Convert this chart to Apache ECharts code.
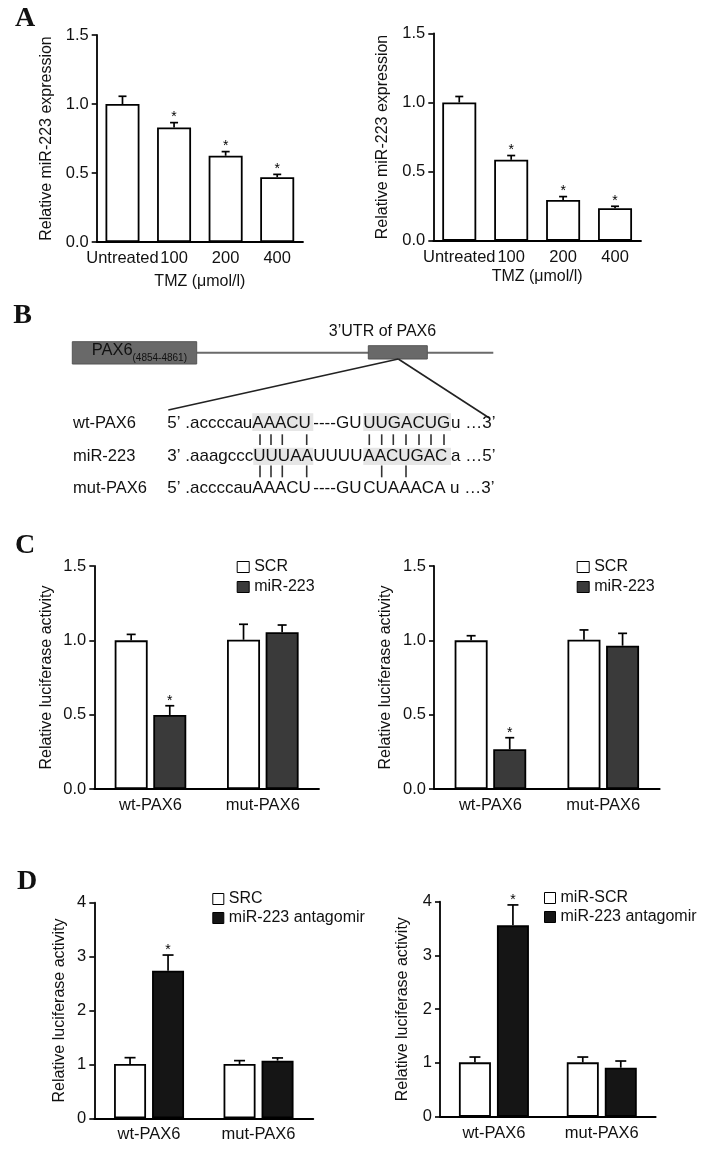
<!DOCTYPE html>
<html>
<head>
<meta charset="utf-8">
<script src="https://cdn.jsdelivr.net/npm/echarts@6/dist/echarts.min.js"></script>
<style>
html,body{margin:0;padding:0;background:#fff;}
#chart{width:708px;height:1150px;}
</style>
</head>
<body>
<div id="chart"></div>
<script>
// ---------------- DATA ----------------
const catsA = ['Untreated', '100', '200', '400'];
const aLeftMean = [1.00, 0.83, 0.625, 0.47];
const aLeftErr  = [0.056, 0.035, 0.03, 0.02];
const aLeftSig  = [0, 1, 1, 1];
const aRightMean = [1.00, 0.585, 0.295, 0.235];
const aRightErr  = [0.043, 0.031, 0.024, 0.014];
const aRightSig  = [0, 1, 1, 1];

const catsCD = ['wt-PAX6', 'mut-PAX6'];
const cLeftSCR = [1.00, 1.004], cLeftSCRErr = [0.04, 0.104], cLeftSCRSig = [0, 0];
const cLeftMiR = [0.498, 1.054], cLeftMiRErr = [0.062, 0.049], cLeftMiRSig = [1, 0];
const cRightSCR = [1.00, 1.004], cRightSCRErr = [0.031, 0.066], cRightSCRSig = [0, 0];
const cRightMiR = [0.267, 0.964], cRightMiRErr = [0.078, 0.083], cRightMiRSig = [1, 0];

const dLeftSRC = [1.008, 1.008], dLeftSRCErr = [0.117, 0.062], dLeftSRCSig = [0, 0];
const dLeftAnt = [2.739, 1.07], dLeftAntErr = [0.29, 0.05], dLeftAntSig = [1, 0];
const dRightSCR = [1.011, 1.011], dRightSCRErr = [0.099, 0.099], dRightSCRSig = [0, 0];
const dRightAnt = [3.56, 0.912], dRightAntErr = [0.38, 0.124], dRightAntSig = [1, 0];

const ticksAC = ['0.0', '0.5', '1.0', '1.5'];
const ticksD = ['0', '1', '2', '3', '4'];

const yNameA = 'Relative miR-223 expression';
const yNameCD = 'Relative luciferase activity';
const xNameA = 'TMZ (μmol/l)';

const namesC = ['SCR', 'miR-223'];
const namesDL = ['SRC', 'miR-223 antagomir'];
const namesDR = ['miR-SCR', 'miR-223 antagomir'];

const panelLetters = ['A', 'B', 'C', 'D'];

// Panel B content
const geneLabel = 'PAX6';
const geneSub = '(4854-4861)';
const utrLabel = '3’UTR of PAX6';
const rowLabels = ['wt-PAX6', 'miR-223', 'mut-PAX6'];
const wtSeq  = ['5’ .accccau', 'AAACU', '----GU', 'UUGACUG', 'u …3’'];
const mirSeq = ['3’ .aaagccc', 'UUUAA', 'UUUU', 'AACUGAC', 'a …5’'];
const mutSeq = ['5’ .accccau', 'AAACU', '----GU', 'CUAAACA', 'u …3’'];

// ---------------- LAYOUT / STYLE ----------------
const FONT = '"Liberation Sans", Arial, sans-serif';
const SERIF = '"Liberation Serif", "Times New Roman", serif';
const INK = '#111';
const TICK_FS = 16.5, NAME_FS = 16;

const grids = [
  {left: 96.7, top: 35, width: 206.3, height: 207},
  {left: 433.3, top: 33.3, width: 207.7, height: 207.4},
  {left: 94.3, top: 566, width: 224.7, height: 223},
  {left: 434, top: 566, width: 225.7, height: 223},
  {left: 94.3, top: 902.7, width: 219, height: 215.6},
  {left: 440, top: 901.7, width: 215.7, height: 215}
];
const yNameGaps = [42, 43, 40, 40, 27, 29];
const xNameGaps = [32, 28];

function fmt(ticks, interval) {
  return v => ticks[Math.round(v / interval)];
}

function xAxis(idx, data, name, nameGap) {
  return {
    type: 'category', gridIndex: idx, data: data,
    name: name || '', nameLocation: 'middle', nameGap: nameGap || 0,
    nameTextStyle: {fontSize: NAME_FS, fontFamily: FONT, color: INK},
    axisLine: {lineStyle: {color: '#000', width: 1.8}},
    axisTick: {alignWithLabel: true, length: 5, lineStyle: {color: '#000', width: 1.6}},
    axisLabel: {interval: 0, margin: 8, fontSize: TICK_FS, fontFamily: FONT, color: INK}
  };
}
function yAxis(idx, max, interval, ticks, name, nameGap) {
  return {
    type: 'value', gridIndex: idx, min: 0, max: max, interval: interval,
    name: name, nameLocation: 'middle', nameGap: nameGap,
    nameTextStyle: {fontSize: NAME_FS, fontFamily: FONT, color: INK},
    axisLine: {show: true, lineStyle: {color: '#000', width: 1.8}},
    axisTick: {show: true, length: 5, lineStyle: {color: '#000', width: 1.6}},
    axisLabel: {margin: 8, fontSize: TICK_FS, fontFamily: FONT, color: INK, formatter: fmt(ticks, interval)},
    splitLine: {show: false}
  };
}

function barSeries(idx, name, data, color, width, gap) {
  return {
    type: 'bar', name: name, xAxisIndex: idx, yAxisIndex: idx, data: data,
    barWidth: width, barGap: gap,
    itemStyle: {color: color, borderColor: '#000', borderWidth: 1.8},
    z: 2
  };
}

function errSeries(idx, means, errs, sig, offset, capHalf) {
  return {
    type: 'custom', xAxisIndex: idx, yAxisIndex: idx, z: 10,
    encode: {x: 0, y: 1},
    data: means.map((m, i) => [i, m, errs[i], sig[i]]),
    renderItem: function (params, api) {
      const i = api.value(0), m = api.value(1), e = api.value(2), s = api.value(3);
      const base = api.coord([i, m]);
      const top = api.coord([i, m + e]);
      const x = base[0] + offset;
      const children = [
        {type: 'line', shape: {x1: x, y1: base[1], x2: x, y2: top[1]}, style: {stroke: '#000', lineWidth: 1.7}},
        {type: 'line', shape: {x1: x - capHalf, y1: top[1], x2: x + capHalf, y2: top[1]}, style: {stroke: '#000', lineWidth: 1.7}}
      ];
      if (s) {
        children.push({
          type: 'text', x: x, y: top[1] - 5,
          style: {text: '*', font: '14px ' + FONT, fill: '#000',
                  align: 'center', verticalAlign: 'middle',
                  textAlign: 'center', textVerticalAlign: 'middle'}
        });
      }
      return {type: 'group', children: children};
    }
  };
}

const WHITE = '#ffffff', DARK_C = '#3a3a3a', DARK_D = '#151515';
const bwA = 34, bwC = 33, gapC = 5.6, bwD = 32, gapD = 6;

function legend(left, top, names, colors, iw, ih, gap) {
  return {
    left: left, top: top, orient: 'vertical', padding: 0,
    itemWidth: iw, itemHeight: ih, itemGap: gap, icon: 'rect', selectedMode: false,
    textStyle: {fontSize: 16, fontFamily: FONT, color: INK},
    data: names.map((n, k) => ({name: n, itemStyle: {color: colors[k], borderColor: '#000', borderWidth: 1}}))
  };
}

// ---------------- GRAPHIC (panel letters + panel B) ----------------
function txt(x, y, text, font, align) {
  return {
    type: 'text', x: x, y: y,
    style: {text: text, font: font, fill: INK, align: align || 'left', verticalAlign: 'middle',
            textAlign: align || 'left', textVerticalAlign: 'middle'}
  };
}
const letterPos = [[25, 18.5], [22.5, 315.5], [25, 545.5], [27, 882]];
const graphics = [];
panelLetters.forEach((L, k) => {
  graphics.push(txt(letterPos[k][0], letterPos[k][1], L, 'bold 28px ' + SERIF, 'center'));
});

// gene schematic
const GENE = '#696969';
graphics.push({type: 'line', shape: {x1: 196.7, y1: 352.7, x2: 493.3, y2: 352.7}, style: {stroke: '#6a6a6a', lineWidth: 2}});
graphics.push({type: 'rect', shape: {x: 72.3, y: 341.7, width: 124.4, height: 22.3}, style: {fill: GENE, stroke: '#555', lineWidth: 1}});
graphics.push({type: 'rect', shape: {x: 368.3, y: 345.7, width: 59, height: 13.3}, style: {fill: GENE, stroke: '#555', lineWidth: 1}});
graphics.push(txt(91.7, 350.5, geneLabel, '16.5px ' + FONT, 'left'));
graphics.push(txt(132.5, 358.5, geneSub, '10px ' + FONT, 'left'));
graphics.push(txt(382.5, 331.5, utrLabel, '16px ' + FONT, 'center'));
graphics.push({type: 'line', shape: {x1: 398.3, y1: 359, x2: 168.3, y2: 410}, style: {stroke: '#222', lineWidth: 1.6}});
graphics.push({type: 'line', shape: {x1: 398.3, y1: 359, x2: 489.3, y2: 418}, style: {stroke: '#222', lineWidth: 1.6}});

// highlights
const HL = '#e6e6e6';
[[252.3, 413.3, 61, 17.7], [363.3, 413.3, 87.7, 17.7], [253.3, 447.7, 60, 17.3], [363.3, 447.7, 87.7, 17.3]].forEach(r => {
  graphics.push({type: 'rect', shape: {x: r[0], y: r[1], width: r[2], height: r[3]}, style: {fill: HL}});
});

const rowY = [423.3, 456.7, 488.3];
// segment anchors: first segment right-aligned to the next segment's start, the rest left-aligned
const segX = [[252.3, 252.3, 313.3, 363.3, 451], [253.3, 253.3, 313.3, 363.3, 451], [252.3, 252.3, 313.3, 363.3, 450]];
const segAlign = ['right', 'left', 'left', 'left', 'left'];
const SEQ_FONT = '17px ' + FONT;
[wtSeq, mirSeq, mutSeq].forEach((seq, r) => {
  graphics.push(txt(73, rowY[r], rowLabels[r], '16.5px ' + FONT, 'left'));
  seq.forEach((s, k) => graphics.push(txt(segX[r][k], rowY[r], s, SEQ_FONT, segAlign[k])));
});

// base-pair bars
const pairTopX = [260, 271, 282.3, 306.7, 369.3, 381.7, 393.3, 406, 419, 431, 444];
const pairBotX = [260, 271, 282.3, 306.7, 381.7, 406];
pairTopX.forEach(x => graphics.push({type: 'line', shape: {x1: x, y1: 434.3, x2: x, y2: 445}, style: {stroke: '#333', lineWidth: 1.6}}));
pairBotX.forEach(x => graphics.push({type: 'line', shape: {x1: x, y1: 465.5, x2: x, y2: 477.3}, style: {stroke: '#333', lineWidth: 1.6}}));

// ---------------- OPTION ----------------
const offC = (bwC + gapC) / 2, offD = (bwD + gapD) / 2;
const option = {
  animation: false,
  backgroundColor: '#fff',
  grid: grids.map(g => Object.assign({containLabel: false}, g)),
  xAxis: [
    xAxis(0, catsA, xNameA, xNameGaps[0]),
    xAxis(1, catsA, xNameA, xNameGaps[1]),
    xAxis(2, catsCD), xAxis(3, catsCD), xAxis(4, catsCD), xAxis(5, catsCD)
  ],
  yAxis: [
    yAxis(0, 1.5, 0.5, ticksAC, yNameA, yNameGaps[0]),
    yAxis(1, 1.5, 0.5, ticksAC, yNameA, yNameGaps[1]),
    yAxis(2, 1.5, 0.5, ticksAC, yNameCD, yNameGaps[2]),
    yAxis(3, 1.5, 0.5, ticksAC, yNameCD, yNameGaps[3]),
    yAxis(4, 4, 1, ticksD, yNameCD, yNameGaps[4]),
    yAxis(5, 4, 1, ticksD, yNameCD, yNameGaps[5])
  ],
  legend: [
    legend(236.7, 559, namesC, [WHITE, DARK_C], 12, 11, 4),
    legend(576.7, 559, namesC, [WHITE, DARK_C], 12, 11, 4),
    legend(212.3, 891, namesDL, [WHITE, DARK_D], 11, 11, 3),
    legend(544, 890, namesDR, [WHITE, DARK_D], 11, 11, 3)
  ],
  series: [
    barSeries(0, 'A1', aLeftMean, WHITE, bwA, '0%'),
    errSeries(0, aLeftMean, aLeftErr, aLeftSig, 0, 4),
    barSeries(1, 'A2', aRightMean, WHITE, bwA, '0%'),
    errSeries(1, aRightMean, aRightErr, aRightSig, 0, 4),

    barSeries(2, namesC[0], cLeftSCR, WHITE, bwC, (gapC / bwC * 100) + '%'),
    barSeries(2, namesC[1], cLeftMiR, DARK_C, bwC, (gapC / bwC * 100) + '%'),
    errSeries(2, cLeftSCR, cLeftSCRErr, cLeftSCRSig, -offC, 4.5),
    errSeries(2, cLeftMiR, cLeftMiRErr, cLeftMiRSig, offC, 4.5),

    barSeries(3, namesC[0], cRightSCR, WHITE, bwC, (gapC / bwC * 100) + '%'),
    barSeries(3, namesC[1], cRightMiR, DARK_C, bwC, (gapC / bwC * 100) + '%'),
    errSeries(3, cRightSCR, cRightSCRErr, cRightSCRSig, -offC, 4.5),
    errSeries(3, cRightMiR, cRightMiRErr, cRightMiRSig, offC, 4.5),

    barSeries(4, namesDL[0], dLeftSRC, WHITE, bwD, (gapD / bwD * 100) + '%'),
    barSeries(4, namesDL[1], dLeftAnt, DARK_D, bwD, (gapD / bwD * 100) + '%'),
    errSeries(4, dLeftSRC, dLeftSRCErr, dLeftSRCSig, -offD, 5.5),
    errSeries(4, dLeftAnt, dLeftAntErr, dLeftAntSig, offD, 5.5),

    barSeries(5, namesDR[0], dRightSCR, WHITE, bwD, (gapD / bwD * 100) + '%'),
    barSeries(5, namesDR[1], dRightAnt, DARK_D, bwD, (gapD / bwD * 100) + '%'),
    errSeries(5, dRightSCR, dRightSCRErr, dRightSCRSig, -offD, 5.5),
    errSeries(5, dRightAnt, dRightAntErr, dRightAntSig, offD, 5.5)
  ],
  graphic: graphics
};

const chart = echarts.init(document.getElementById('chart'), null, {renderer: 'canvas'});
chart.setOption(option);
</script>
</body>
</html>
